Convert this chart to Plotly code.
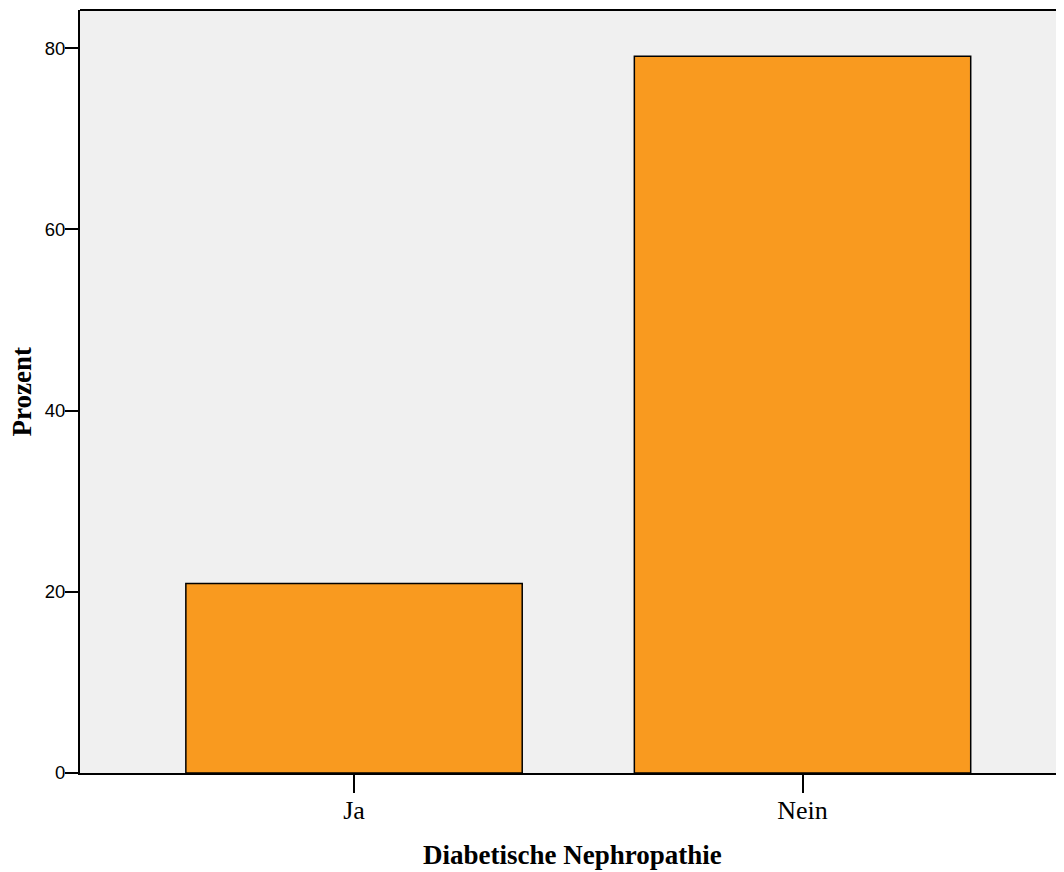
import plotly.graph_objects as go

categories = ["Ja", "Nein"]
percent = [20.9, 79.1]
y_ticks = [0, 20, 40, 60, 80]

fig = go.Figure()
fig.add_trace(go.Bar(
    x=categories, y=percent, width=0.75,
    marker=dict(color="#F99A1F", line=dict(color="black", width=1.5)),
))

fig.update_layout(
    width=1056, height=864,
    margin=dict(l=72, r=0, t=2, b=99),
    paper_bgcolor="white", plot_bgcolor="#F0F0F0",
    showlegend=False,
    xaxis=dict(
        type="category", range=[-0.611, 1.583],
        showline=True, linecolor="black", linewidth=2,
        ticks="outside", ticklen=18, tickwidth=2, tickcolor="black",
        tickfont=dict(family="Liberation Serif", size=26, color="black"),
        ticklabelstandoff=-5,
        showgrid=False, zeroline=False,
    ),
    yaxis=dict(
        range=[0, 84.2], tickvals=y_ticks,
        showline=True, linecolor="black", linewidth=2,
        ticks="outside", ticklen=13, tickwidth=2, tickcolor="black",
        tickfont=dict(family="Liberation Sans", size=18.5, color="black"),
        ticklabelstandoff=-4,
        showgrid=False, zeroline=False,
    ),
    shapes=[dict(type="line", xref="paper", yref="paper", x0=0, x1=1, y0=1, y1=1,
                 line=dict(color="black", width=2))],
    annotations=[
        dict(text="<b>Diabetische Nephropathie</b>", xref="paper", yref="paper",
             x=0.5, y=-0.1075, xanchor="center", yanchor="middle", showarrow=False,
             font=dict(family="Liberation Serif", size=27, color="black")),
        dict(text="<b>Prozent</b>", xref="paper", yref="paper",
             x=-0.059, y=0.5, xanchor="center", yanchor="middle", showarrow=False,
             textangle=-90,
             font=dict(family="Liberation Serif", size=27, color="black")),
    ],
)

fig.write_html("out.html")
